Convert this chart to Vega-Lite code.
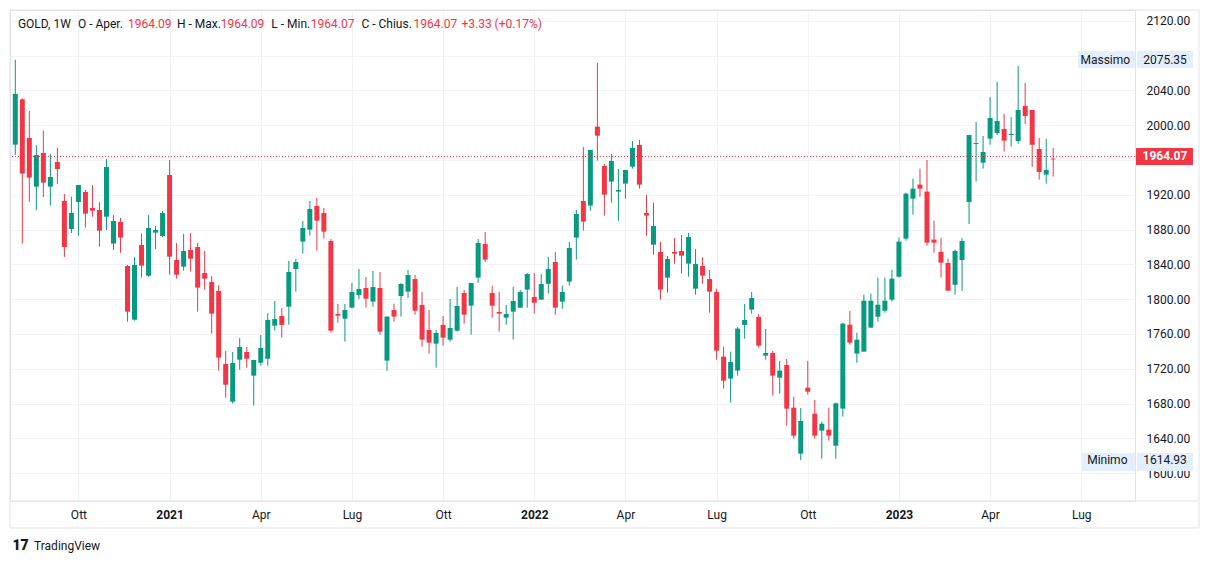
{
  "$schema": "https://vega.github.io/schema/vega-lite/v6.json",
  "width": 1125,
  "height": 491,
  "autosize": {"type": "none"},
  "padding": {"left": 10, "top": 10, "right": 74, "bottom": 63},
  "background": "#ffffff",
  "config": {
    "font": "Roboto",
    "view": {"stroke": "#e0e3eb", "strokeWidth": 1},
    "scale": {"continuousPadding": 0},
    "axis": {"labelFont": "Roboto", "labelFontSize": 12, "labelColor": "#131722", "gridColor": "#f0f3fa", "gridWidth": 1, "labelOverlap": false, "tickCount": 40},
    "axisY": {"labelOverlap": false, "tickCount": 40},
    "axisX": {"labelOverlap": false, "tickCount": 40}
  },
  "datasets": {
    "gold": [
      {"d":"2020-08-03","o":1977.7,"h":2075.35,"l":1965.8,"c":2036.0},
      {"d":"2020-08-10","o":2029.8,"h":2031.0,"l":1863.9,"c":1944.4},
      {"d":"2020-08-17","o":1985.4,"h":2016.4,"l":1911.8,"c":1939.8},
      {"d":"2020-08-24","o":1929.4,"h":1977.3,"l":1902.6,"c":1965.8},
      {"d":"2020-08-31","o":1968.1,"h":1993.8,"l":1917.5,"c":1934.0},
      {"d":"2020-09-07","o":1929.4,"h":1967.0,"l":1907.6,"c":1940.5},
      {"d":"2020-09-14","o":1957.8,"h":1974.2,"l":1932.5,"c":1949.7},
      {"d":"2020-09-21","o":1912.9,"h":1921.0,"l":1848.6,"c":1860.0},
      {"d":"2020-09-28","o":1880.7,"h":1917.9,"l":1876.1,"c":1899.1},
      {"d":"2020-10-05","o":1911.8,"h":1931.3,"l":1873.0,"c":1931.3},
      {"d":"2020-10-12","o":1923.3,"h":1925.6,"l":1882.3,"c":1898.4},
      {"d":"2020-10-19","o":1904.9,"h":1931.3,"l":1894.9,"c":1901.8},
      {"d":"2020-10-26","o":1902.6,"h":1911.8,"l":1860.4,"c":1878.8},
      {"d":"2020-11-02","o":1894.9,"h":1961.2,"l":1879.6,"c":1952.0},
      {"d":"2020-11-09","o":1863.9,"h":1896.8,"l":1856.6,"c":1889.9},
      {"d":"2020-11-16","o":1888.8,"h":1893.4,"l":1853.5,"c":1870.8},
      {"d":"2020-11-23","o":1838.2,"h":1839.3,"l":1774.2,"c":1785.7},
      {"d":"2020-11-30","o":1776.5,"h":1848.6,"l":1775.4,"c":1839.3},
      {"d":"2020-12-07","o":1862.3,"h":1875.4,"l":1824.8,"c":1838.6},
      {"d":"2020-12-14","o":1827.0,"h":1896.8,"l":1825.8,"c":1881.9},
      {"d":"2020-12-21","o":1876.5,"h":1884.2,"l":1857.7,"c":1879.6},
      {"d":"2020-12-28","o":1872.7,"h":1901.4,"l":1871.5,"c":1899.1},
      {"d":"2021-01-04","o":1942.8,"h":1960.1,"l":1828.2,"c":1848.9},
      {"d":"2021-01-11","o":1845.1,"h":1864.6,"l":1823.6,"c":1828.2},
      {"d":"2021-01-18","o":1837.4,"h":1875.0,"l":1832.8,"c":1855.4},
      {"d":"2021-01-25","o":1856.6,"h":1876.1,"l":1831.7,"c":1846.6},
      {"d":"2021-02-01","o":1860.0,"h":1864.6,"l":1785.7,"c":1813.3},
      {"d":"2021-02-08","o":1830.1,"h":1855.4,"l":1811.0,"c":1823.6},
      {"d":"2021-02-15","o":1819.8,"h":1826.7,"l":1760.4,"c":1783.4},
      {"d":"2021-02-22","o":1809.4,"h":1816.3,"l":1717.8,"c":1732.8},
      {"d":"2021-03-01","o":1725.5,"h":1740.5,"l":1686.8,"c":1701.7},
      {"d":"2021-03-08","o":1682.2,"h":1739.3,"l":1679.9,"c":1726.7},
      {"d":"2021-03-15","o":1730.5,"h":1755.4,"l":1719.0,"c":1745.1},
      {"d":"2021-03-22","o":1739.3,"h":1745.1,"l":1721.3,"c":1731.6},
      {"d":"2021-03-29","o":1712.1,"h":1730.1,"l":1677.6,"c":1730.1},
      {"d":"2021-04-05","o":1727.0,"h":1758.9,"l":1723.6,"c":1743.9},
      {"d":"2021-04-12","o":1731.6,"h":1784.1,"l":1723.6,"c":1776.1},
      {"d":"2021-04-19","o":1769.6,"h":1797.9,"l":1763.8,"c":1777.2},
      {"d":"2021-04-26","o":1780.7,"h":1789.9,"l":1755.8,"c":1770.4},
      {"d":"2021-05-03","o":1791.4,"h":1843.9,"l":1770.7,"c":1831.3},
      {"d":"2021-05-10","o":1834.7,"h":1846.2,"l":1808.7,"c":1842.8},
      {"d":"2021-05-17","o":1866.2,"h":1889.9,"l":1852.4,"c":1881.9},
      {"d":"2021-05-24","o":1880.0,"h":1912.9,"l":1873.1,"c":1903.7},
      {"d":"2021-05-31","o":1907.2,"h":1916.4,"l":1855.8,"c":1890.3},
      {"d":"2021-06-07","o":1899.1,"h":1904.9,"l":1869.6,"c":1877.7},
      {"d":"2021-06-14","o":1866.9,"h":1869.2,"l":1761.5,"c":1763.8},
      {"d":"2021-06-21","o":1783.0,"h":1794.5,"l":1773.0,"c":1781.1},
      {"d":"2021-06-28","o":1777.6,"h":1794.5,"l":1751.2,"c":1787.6},
      {"d":"2021-07-05","o":1790.3,"h":1818.7,"l":1789.5,"c":1808.3},
      {"d":"2021-07-12","o":1804.8,"h":1834.7,"l":1799.9,"c":1811.7},
      {"d":"2021-07-19","o":1812.9,"h":1825.5,"l":1790.3,"c":1800.6},
      {"d":"2021-07-26","o":1797.2,"h":1832.4,"l":1791.4,"c":1814.0},
      {"d":"2021-08-02","o":1812.9,"h":1831.3,"l":1759.2,"c":1762.7},
      {"d":"2021-08-09","o":1729.4,"h":1780.0,"l":1717.8,"c":1780.0},
      {"d":"2021-08-16","o":1787.6,"h":1794.9,"l":1774.2,"c":1780.0},
      {"d":"2021-08-23","o":1803.7,"h":1818.7,"l":1780.0,"c":1817.5},
      {"d":"2021-08-30","o":1808.7,"h":1833.6,"l":1801.4,"c":1827.8},
      {"d":"2021-09-06","o":1823.2,"h":1827.8,"l":1782.2,"c":1786.8},
      {"d":"2021-09-13","o":1793.4,"h":1808.3,"l":1745.4,"c":1753.5},
      {"d":"2021-09-20","o":1764.6,"h":1787.6,"l":1737.4,"c":1750.1},
      {"d":"2021-09-27","o":1748.9,"h":1764.6,"l":1721.3,"c":1761.2},
      {"d":"2021-10-04","o":1770.4,"h":1780.7,"l":1746.6,"c":1755.8},
      {"d":"2021-10-11","o":1753.5,"h":1800.3,"l":1751.2,"c":1766.9},
      {"d":"2021-10-18","o":1763.8,"h":1814.1,"l":1762.7,"c":1792.2},
      {"d":"2021-10-25","o":1807.1,"h":1810.6,"l":1771.9,"c":1782.2},
      {"d":"2021-11-01","o":1792.6,"h":1818.6,"l":1759.2,"c":1818.6},
      {"d":"2021-11-08","o":1824.8,"h":1869.2,"l":1819.0,"c":1864.6},
      {"d":"2021-11-15","o":1863.5,"h":1877.3,"l":1842.8,"c":1845.5},
      {"d":"2021-11-22","o":1807.1,"h":1815.2,"l":1778.8,"c":1792.6},
      {"d":"2021-11-29","o":1785.3,"h":1808.3,"l":1762.7,"c":1783.4},
      {"d":"2021-12-06","o":1778.8,"h":1793.4,"l":1770.7,"c":1783.0},
      {"d":"2021-12-13","o":1785.7,"h":1814.1,"l":1753.5,"c":1797.9},
      {"d":"2021-12-20","o":1790.3,"h":1810.6,"l":1790.3,"c":1808.3},
      {"d":"2021-12-27","o":1811.0,"h":1830.1,"l":1790.3,"c":1829.0},
      {"d":"2022-01-03","o":1802.5,"h":1830.1,"l":1783.4,"c":1796.0},
      {"d":"2022-01-10","o":1799.5,"h":1829.0,"l":1799.5,"c":1817.5},
      {"d":"2022-01-17","o":1817.7,"h":1848.7,"l":1806.4,"c":1834.7},
      {"d":"2022-01-24","o":1842.8,"h":1854.3,"l":1782.2,"c":1790.3},
      {"d":"2022-01-31","o":1797.2,"h":1815.6,"l":1789.1,"c":1808.3},
      {"d":"2022-02-07","o":1820.2,"h":1865.8,"l":1815.6,"c":1858.9},
      {"d":"2022-02-14","o":1870.8,"h":1902.6,"l":1845.5,"c":1898.0},
      {"d":"2022-02-21","o":1912.9,"h":1975.0,"l":1878.8,"c":1889.2},
      {"d":"2022-02-28","o":1907.6,"h":1971.6,"l":1901.8,"c":1971.6},
      {"d":"2022-03-07","o":1998.4,"h":2071.6,"l":1959.3,"c":1988.0},
      {"d":"2022-03-14","o":1953.2,"h":1955.5,"l":1896.1,"c":1920.2},
      {"d":"2022-03-21","o":1935.2,"h":1967.0,"l":1911.0,"c":1958.9},
      {"d":"2022-03-28","o":1923.7,"h":1949.7,"l":1890.3,"c":1925.6},
      {"d":"2022-04-04","o":1932.9,"h":1948.6,"l":1915.6,"c":1948.6},
      {"d":"2022-04-11","o":1952.4,"h":1981.9,"l":1950.1,"c":1973.9},
      {"d":"2022-04-18","o":1977.3,"h":1983.1,"l":1927.1,"c":1931.7},
      {"d":"2022-04-25","o":1899.1,"h":1919.8,"l":1873.1,"c":1896.1},
      {"d":"2022-05-02","o":1862.7,"h":1911.0,"l":1851.2,"c":1884.2},
      {"d":"2022-05-09","o":1854.3,"h":1865.8,"l":1799.5,"c":1811.0},
      {"d":"2022-05-16","o":1824.8,"h":1849.7,"l":1807.5,"c":1846.2},
      {"d":"2022-05-23","o":1854.3,"h":1870.4,"l":1840.9,"c":1852.4},
      {"d":"2022-05-30","o":1855.4,"h":1873.8,"l":1829.4,"c":1850.1},
      {"d":"2022-06-06","o":1840.9,"h":1876.1,"l":1825.9,"c":1871.5},
      {"d":"2022-06-13","o":1812.1,"h":1857.7,"l":1805.3,"c":1840.5},
      {"d":"2022-06-20","o":1838.2,"h":1848.5,"l":1817.9,"c":1827.1},
      {"d":"2022-06-27","o":1823.2,"h":1833.6,"l":1784.5,"c":1808.7},
      {"d":"2022-07-04","o":1808.3,"h":1812.1,"l":1730.5,"c":1740.9},
      {"d":"2022-07-11","o":1734.0,"h":1745.5,"l":1697.2,"c":1706.3},
      {"d":"2022-07-18","o":1708.7,"h":1739.7,"l":1681.1,"c":1727.8},
      {"d":"2022-07-25","o":1717.9,"h":1768.1,"l":1712.1,"c":1766.2},
      {"d":"2022-08-01","o":1770.4,"h":1794.5,"l":1754.6,"c":1776.1},
      {"d":"2022-08-08","o":1788.0,"h":1808.3,"l":1783.4,"c":1801.4},
      {"d":"2022-08-15","o":1779.6,"h":1783.0,"l":1744.3,"c":1746.6},
      {"d":"2022-08-22","o":1735.1,"h":1765.8,"l":1730.5,"c":1738.2},
      {"d":"2022-08-29","o":1738.2,"h":1740.5,"l":1689.1,"c":1712.1},
      {"d":"2022-09-05","o":1709.8,"h":1729.0,"l":1691.4,"c":1717.9},
      {"d":"2022-09-12","o":1724.4,"h":1731.3,"l":1654.6,"c":1674.2},
      {"d":"2022-09-19","o":1675.3,"h":1688.0,"l":1639.7,"c":1643.1},
      {"d":"2022-09-26","o":1622.4,"h":1674.9,"l":1614.93,"c":1660.0},
      {"d":"2022-10-03","o":1698.3,"h":1729.0,"l":1690.3,"c":1693.7},
      {"d":"2022-10-10","o":1668.4,"h":1684.1,"l":1639.7,"c":1643.1},
      {"d":"2022-10-17","o":1648.9,"h":1659.2,"l":1616.7,"c":1656.9},
      {"d":"2022-10-24","o":1650.0,"h":1675.3,"l":1637.4,"c":1643.1},
      {"d":"2022-10-31","o":1631.6,"h":1681.1,"l":1616.7,"c":1680.3},
      {"d":"2022-11-07","o":1674.2,"h":1773.0,"l":1665.0,"c":1771.9},
      {"d":"2022-11-14","o":1770.7,"h":1786.5,"l":1747.7,"c":1750.0},
      {"d":"2022-11-21","o":1737.4,"h":1761.5,"l":1727.0,"c":1753.5},
      {"d":"2022-11-28","o":1739.7,"h":1805.2,"l":1739.7,"c":1798.3},
      {"d":"2022-12-05","o":1767.3,"h":1806.4,"l":1767.3,"c":1798.3},
      {"d":"2022-12-12","o":1779.9,"h":1824.8,"l":1774.2,"c":1793.7},
      {"d":"2022-12-19","o":1786.8,"h":1824.8,"l":1784.5,"c":1798.3},
      {"d":"2022-12-26","o":1799.5,"h":1834.0,"l":1797.2,"c":1823.6},
      {"d":"2023-01-02","o":1825.9,"h":1870.8,"l":1824.8,"c":1866.2},
      {"d":"2023-01-09","o":1869.6,"h":1922.5,"l":1867.3,"c":1921.4},
      {"d":"2023-01-16","o":1915.6,"h":1938.6,"l":1897.2,"c":1927.1},
      {"d":"2023-01-23","o":1931.7,"h":1950.1,"l":1917.9,"c":1927.1},
      {"d":"2023-01-30","o":1923.7,"h":1960.1,"l":1861.6,"c":1865.0},
      {"d":"2023-02-06","o":1868.5,"h":1890.3,"l":1853.5,"c":1865.0},
      {"d":"2023-02-13","o":1854.5,"h":1870.6,"l":1825.0,"c":1842.0},
      {"d":"2023-02-20","o":1841.6,"h":1846.5,"l":1809.7,"c":1809.8},
      {"d":"2023-02-27","o":1816.6,"h":1857.0,"l":1805.1,"c":1855.4},
      {"d":"2023-03-06","o":1845.1,"h":1870.4,"l":1809.5,"c":1866.9},
      {"d":"2023-03-13","o":1911.8,"h":1988.8,"l":1886.5,"c":1988.8},
      {"d":"2023-03-20","o":1978.5,"h":2003.8,"l":1935.2,"c":1979.6},
      {"d":"2023-03-27","o":1957.0,"h":1987.7,"l":1950.1,"c":1969.3},
      {"d":"2023-04-03","o":1984.6,"h":2032.5,"l":1977.7,"c":2008.4},
      {"d":"2023-04-10","o":1991.1,"h":2049.8,"l":1988.8,"c":2004.9},
      {"d":"2023-04-17","o":1995.7,"h":2013.0,"l":1969.7,"c":1982.3},
      {"d":"2023-04-24","o":1988.8,"h":2009.5,"l":1975.4,"c":1990.0},
      {"d":"2023-05-01","o":1981.9,"h":2068.2,"l":1978.8,"c":2017.6},
      {"d":"2023-05-08","o":2022.2,"h":2048.6,"l":2001.5,"c":2010.7},
      {"d":"2023-05-15","o":2017.6,"h":2017.6,"l":1952.0,"c":1977.7},
      {"d":"2023-05-22","o":1972.7,"h":1985.4,"l":1937.5,"c":1946.3},
      {"d":"2023-05-29","o":1943.2,"h":1984.2,"l":1932.9,"c":1948.6},
      {"d":"2023-06-05","o":1961.6,"h":1973.9,"l":1940.9,"c":1960.74},
      {"d":"2023-06-12","o":1964.09,"h":1964.09,"l":1964.07,"c":1964.07}
    ]
  },
  "layer": [
    {
      "data": {"name": "gold"},
      "mark": {"type": "rule", "strokeWidth": 1},
      "encoding": {
        "x": {
          "field": "d", "type": "temporal",
          "scale": {"type": "utc", "padding": 0, "domain": [{"year": 2020, "month": 7, "date": 28, "hours": 17, "utc": true}, {"year": 2023, "month": 8, "date": 25, "hours": 15, "utc": true}]},
          "axis": {
            "title": null, "orient": "bottom", "domain": true, "domainColor": "#e0e3eb", "ticks": false, "labelPadding": 8, "tickCount": 40,
            "values": [
              {"year": 2020, "month": 10, "date": 5, "utc": true},
              {"year": 2021, "month": 1, "date": 4, "utc": true},
              {"year": 2021, "month": 4, "date": 5, "utc": true},
              {"year": 2021, "month": 7, "date": 5, "utc": true},
              {"year": 2021, "month": 10, "date": 4, "utc": true},
              {"year": 2022, "month": 1, "date": 3, "utc": true},
              {"year": 2022, "month": 4, "date": 4, "utc": true},
              {"year": 2022, "month": 7, "date": 4, "utc": true},
              {"year": 2022, "month": 10, "date": 3, "utc": true},
              {"year": 2023, "month": 1, "date": 2, "utc": true},
              {"year": 2023, "month": 4, "date": 3, "utc": true},
              {"year": 2023, "month": 7, "date": 3, "utc": true}
            ],
            "labelExpr": "utcmonth(datum.value) == 0 ? utcFormat(datum.value, '%Y') : ['Gen','Feb','Mar','Apr','Mag','Giu','Lug','Ago','Set','Ott','Nov','Dic'][utcmonth(datum.value)]",
            "labelFontWeight": {"condition": {"test": "utcmonth(datum.value) == 0", "value": "bold"}, "value": "normal"},
            "labelFlush": false, "labelOverlap": false
          }
        },
        "y": {
          "field": "l", "type": "quantitative",
          "scale": {"domain": [1568, 2132.5], "zero": false, "nice": false},
          "axis": {
            "title": null, "orient": "right", "domain": false, "ticks": false, "labelPadding": 11, "labelAlign": "left", "tickCount": 40,
            "values": [1600, 1640, 1680, 1720, 1760, 1800, 1840, 1880, 1920, 1960, 2000, 2040, 2080, 2120],
            "labelOverlap": false, "labelFlush": false, "labelBound": false,
            "labelExpr": "(datum.value == 2080 || datum.value == 1960) ? '' : format(datum.value, '.2f')"
          }
        },
        "y2": {"field": "h"},
        "color": {"condition": {"test": "datum.c < datum.o", "value": "#f23645"}, "value": "#089981"}
      }
    },
    {
      "data": {"name": "gold"},
      "mark": {"type": "bar", "size": 5, "minBandSize": 1},
      "encoding": {
        "x": {"field": "d", "type": "temporal"},
        "y": {"field": "o", "type": "quantitative"},
        "y2": {"field": "c"},
        "color": {"condition": {"test": "datum.c < datum.o", "value": "#f23645"}, "value": "#089981"}
      }
    },
    {
      "data": {"values": [{}]},
      "mark": {"type": "rule", "color": "#f23645", "strokeWidth": 1, "strokeDash": [1, 2]},
      "encoding": {"y": {"datum": 1964.07}}
    },
    {
      "data": {"values": [{}]},
      "mark": {"type": "rule", "color": "#e0e3eb", "strokeWidth": 1, "clip": false},
      "encoding": {
        "x": {"datum": {"year": 2020, "month": 7, "date": 28, "hours": 17, "utc": true}},
        "x2": {"datum": {"year": 2023, "month": 10, "date": 28, "hours": 12, "utc": true}},
        "y": {"datum": 2132.5}
      }
    },
    {
      "data": {"values": [{}]},
      "mark": {"type": "rule", "color": "#e0e3eb", "strokeWidth": 1, "clip": false},
      "encoding": {
        "x": {"datum": {"year": 2020, "month": 7, "date": 28, "hours": 17, "utc": true}},
        "x2": {"datum": {"year": 2023, "month": 10, "date": 28, "hours": 12, "utc": true}},
        "y": {"datum": 1568}
      }
    },
    {
      "data": {"values": [{}]},
      "mark": {"type": "rule", "color": "#e0e3eb", "strokeWidth": 1, "clip": false},
      "encoding": {
        "x": {"datum": {"year": 2020, "month": 7, "date": 28, "hours": 17, "utc": true}},
        "x2": {"datum": {"year": 2023, "month": 10, "date": 28, "hours": 12, "utc": true}},
        "y": {"datum": 1537}
      }
    },
    {
      "data": {"values": [{}]},
      "mark": {"type": "rule", "color": "#e0e3eb", "strokeWidth": 1, "clip": false},
      "encoding": {
        "x": {"datum": {"year": 2023, "month": 10, "date": 28, "hours": 12, "utc": true}},
        "y": {"datum": 2132.5},
        "y2": {"datum": 1537}
      }
    },
    {
      "data": {"values": [{}]},
      "mark": {"type": "rule", "color": "#e0e3eb", "strokeWidth": 1, "clip": false},
      "encoding": {
        "x": {"datum": {"year": 2020, "month": 7, "date": 28, "hours": 17, "utc": true}},
        "y": {"datum": 2132.5},
        "y2": {"datum": 1537}
      }
    },
    {
      "data": {"values": [{}]},
      "mark": {"type": "rect", "color": "#e3effd"},
      "encoding": {
        "x": {"datum": {"year": 2023, "month": 6, "date": 29, "hours": 17, "utc": true}},
        "x2": {"datum": {"year": 2023, "month": 8, "date": 25, "hours": 15, "utc": true}},
        "y": {"datum": 2085.4}, "y2": {"datum": 2065.9}
      }
    },
    {
      "data": {"values": [{}]},
      "mark": {"type": "rect", "color": "#e3effd"},
      "encoding": {
        "x": {"datum": {"year": 2023, "month": 8, "date": 27, "hours": 14, "utc": true}},
        "x2": {"datum": {"year": 2023, "month": 10, "date": 22, "hours": 12, "utc": true}},
        "y": {"datum": 2085.4}, "y2": {"datum": 2065.9}
      }
    },
    {
      "data": {"values": [{}]},
      "mark": {"type": "rect", "color": "#e3effd"},
      "encoding": {
        "x": {"datum": {"year": 2023, "month": 7, "date": 3, "hours": 17, "utc": true}},
        "x2": {"datum": {"year": 2023, "month": 8, "date": 25, "hours": 15, "utc": true}},
        "y": {"datum": 1623.2}, "y2": {"datum": 1602.5}
      }
    },
    {
      "data": {"values": [{}]},
      "mark": {"type": "rect", "color": "#e3effd"},
      "encoding": {
        "x": {"datum": {"year": 2023, "month": 8, "date": 27, "hours": 14, "utc": true}},
        "x2": {"datum": {"year": 2023, "month": 10, "date": 22, "hours": 12, "utc": true}},
        "y": {"datum": 1623.2}, "y2": {"datum": 1602.5}
      }
    },
    {
      "data": {"values": [{}]},
      "mark": {"type": "rect", "color": "#f23645"},
      "encoding": {
        "x": {"datum": {"year": 2023, "month": 8, "date": 26, "hours": 15, "utc": true}},
        "x2": {"datum": {"year": 2023, "month": 10, "date": 22, "hours": 12, "utc": true}},
        "y": {"datum": 1973.9}, "y2": {"datum": 1954.3}
      }
    },
    {
      "data": {"values": [{}]},
      "mark": {"type": "text", "text": "Massimo", "fontSize": 12, "color": "#131722", "align": "center", "baseline": "middle"},
      "encoding": {"x": {"datum": {"year": 2023, "month": 7, "date": 27, "utc": true}}, "y": {"datum": 2075.35}}
    },
    {
      "data": {"values": [{}]},
      "mark": {"type": "text", "text": "2075.35", "fontSize": 12, "color": "#131722", "align": "center", "baseline": "middle"},
      "encoding": {"x": {"datum": {"year": 2023, "month": 9, "date": 24, "hours": 13, "utc": true}}, "y": {"datum": 2075.35}}
    },
    {
      "data": {"values": [{}]},
      "mark": {"type": "text", "text": "Minimo", "fontSize": 12, "color": "#131722", "align": "center", "baseline": "middle"},
      "encoding": {"x": {"datum": {"year": 2023, "month": 7, "date": 29, "utc": true}}, "y": {"datum": 1614.93}}
    },
    {
      "data": {"values": [{}]},
      "mark": {"type": "text", "text": "1614.93", "fontSize": 12, "color": "#131722", "align": "center", "baseline": "middle"},
      "encoding": {"x": {"datum": {"year": 2023, "month": 9, "date": 24, "hours": 13, "utc": true}}, "y": {"datum": 1614.93}}
    },
    {
      "data": {"values": [{}]},
      "mark": {"type": "text", "text": "1964.07", "fontSize": 12, "fontWeight": "bold", "color": "#ffffff", "align": "center", "baseline": "middle"},
      "encoding": {"x": {"datum": {"year": 2023, "month": 9, "date": 24, "hours": 13, "utc": true}}, "y": {"datum": 1964.07}}
    },
    {
      "data": {"values": [{}]},
      "mark": {"type": "text", "text": "GOLD, 1W", "fontSize": 12, "color": "#131722", "align": "left", "baseline": "middle"},
      "encoding": {"x": {"datum": {"year": 2020, "month": 8, "date": 5, "hours": 14, "utc": true}}, "y": {"datum": 2116.4}}
    },
    {
      "data": {"values": [{}]},
      "mark": {"type": "text", "text": "O - Aper.", "fontSize": 12, "color": "#131722", "align": "left", "baseline": "middle"},
      "encoding": {"x": {"datum": {"year": 2020, "month": 10, "date": 4, "hours": 12, "utc": true}}, "y": {"datum": 2116.4}}
    },
    {
      "data": {"values": [{}]},
      "mark": {"type": "text", "text": "1964.09", "fontSize": 12, "color": "#f23645", "align": "left", "baseline": "middle"},
      "encoding": {"x": {"datum": {"year": 2020, "month": 11, "date": 23, "hours": 10, "utc": true}}, "y": {"datum": 2116.4}}
    },
    {
      "data": {"values": [{}]},
      "mark": {"type": "text", "text": "H - Max.", "fontSize": 12, "color": "#131722", "align": "left", "baseline": "middle"},
      "encoding": {"x": {"datum": {"year": 2021, "month": 1, "date": 11, "hours": 10, "utc": true}}, "y": {"datum": 2116.4}}
    },
    {
      "data": {"values": [{}]},
      "mark": {"type": "text", "text": "1964.09", "fontSize": 12, "color": "#f23645", "align": "left", "baseline": "middle"},
      "encoding": {"x": {"datum": {"year": 2021, "month": 2, "date": 24, "utc": true}}, "y": {"datum": 2116.4}}
    },
    {
      "data": {"values": [{}]},
      "mark": {"type": "text", "text": "L - Min.", "fontSize": 12, "color": "#131722", "align": "left", "baseline": "middle"},
      "encoding": {"x": {"datum": {"year": 2021, "month": 4, "date": 15, "hours": 14, "utc": true}}, "y": {"datum": 2116.4}}
    },
    {
      "data": {"values": [{}]},
      "mark": {"type": "text", "text": "1964.07", "fontSize": 12, "color": "#f23645", "align": "left", "baseline": "middle"},
      "encoding": {"x": {"datum": {"year": 2021, "month": 5, "date": 24, "hours": 22, "utc": true}}, "y": {"datum": 2116.4}}
    },
    {
      "data": {"values": [{}]},
      "mark": {"type": "text", "text": "C - Chius.", "fontSize": 12, "color": "#131722", "align": "left", "baseline": "middle"},
      "encoding": {"x": {"datum": {"year": 2021, "month": 7, "date": 14, "hours": 12, "utc": true}}, "y": {"datum": 2116.4}}
    },
    {
      "data": {"values": [{}]},
      "mark": {"type": "text", "text": "1964.07", "fontSize": 12, "color": "#f23645", "align": "left", "baseline": "middle"},
      "encoding": {"x": {"datum": {"year": 2021, "month": 9, "date": 4, "hours": 14, "utc": true}}, "y": {"datum": 2116.4}}
    },
    {
      "data": {"values": [{}]},
      "mark": {"type": "text", "text": "+3.33 (+0.17%)", "fontSize": 12, "color": "#f23645", "align": "left", "baseline": "middle"},
      "encoding": {"x": {"datum": {"year": 2021, "month": 10, "date": 22, "hours": 7, "utc": true}}, "y": {"datum": 2116.4}}
    },
    {
      "data": {"values": [{}]},
      "mark": {"type": "text", "text": "17", "fontSize": 14, "fontWeight": 900, "color": "#131722", "align": "center", "baseline": "middle"},
      "encoding": {"x": {"datum": {"year": 2020, "month": 8, "date": 8, "hours": 5, "utc": true}}, "y": {"datum": 1516.3}}
    },
    {
      "data": {"values": [{}]},
      "mark": {"type": "text", "text": "TradingView", "fontSize": 12, "color": "#131722", "align": "left", "baseline": "middle"},
      "encoding": {"x": {"datum": {"year": 2020, "month": 8, "date": 21, "hours": 17, "utc": true}}, "y": {"datum": 1516.3}}
    }
  ]
}
